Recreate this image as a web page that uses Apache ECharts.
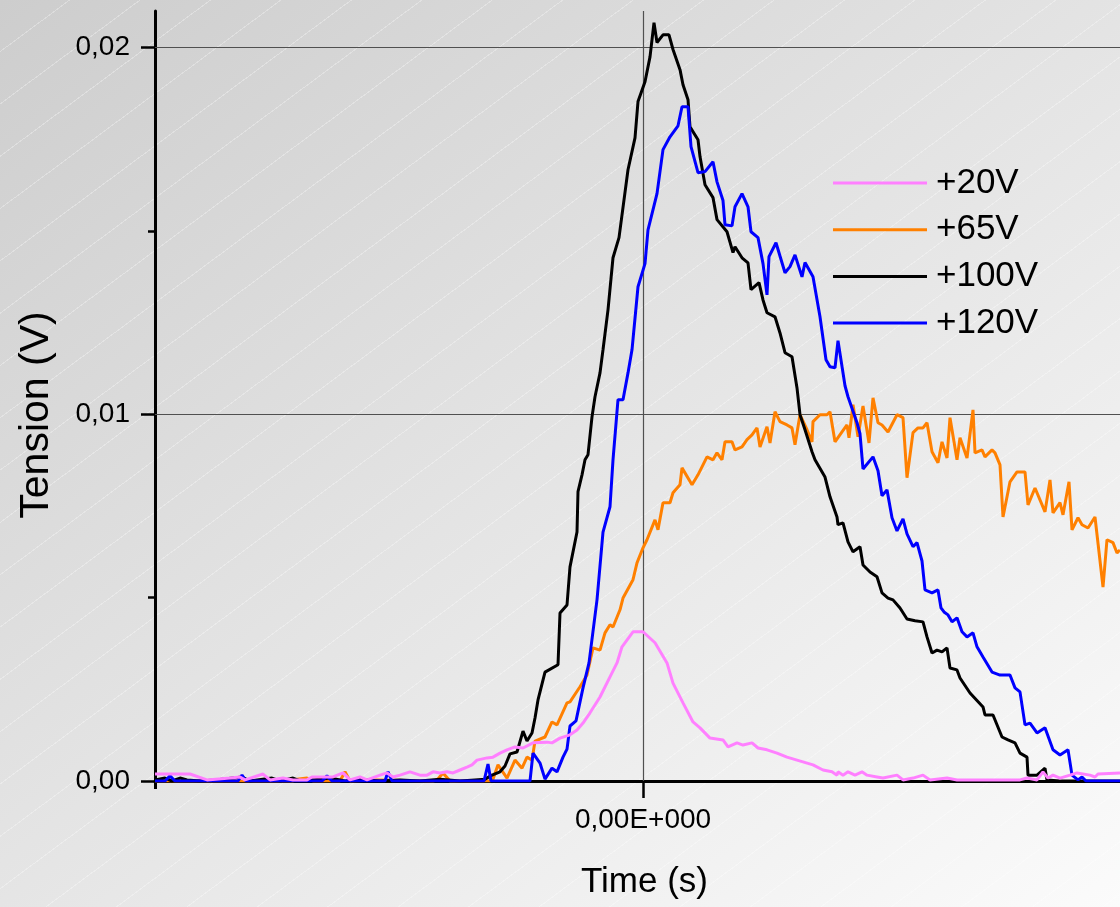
<!DOCTYPE html>
<html>
<head>
<meta charset="utf-8">
<script src="https://cdn.jsdelivr.net/npm/echarts@6/dist/echarts.min.js"></script>
<style>
  html, body { margin: 0; padding: 0; }
  #chart {
    width: 1120px; height: 907px;
    background:
      repeating-linear-gradient(143.4deg, rgba(255,255,255,0) 0px, rgba(255,255,255,0) 41px, rgba(255,255,255,0.3) 41px, rgba(255,255,255,0.3) 42px),
      linear-gradient(143deg, #cdcdcd 0%, #e2e2e2 45%, #fbfbfb 100%);
  }
</style>
</head>
<body>
<div id="chart"></div>
<script>
// Time in ns (relative to trigger), tension in mV
const seriesNames = ['+20V', '+65V', '+100V', '+120V'];
const yMajorTicks = [0, 0.01, 0.02];
const yMinorTicks = [0.005, 0.015];
const xTicks = [0];

const data20V = [
  [-488,0.19],[-453,0.19],[-436,0.03],[-413,0.08],[-403,0.11],[-398,0.03],[-380,0.19],[-373,0.03],[-360,0.08],
  [-350,0.03],[-336,0.03],[-331,0.11],[-310,0.11],[-300,0.22],[-293,0.03],[-283,0.11],[-276,0.03],[-263,0.16],
  [-256,0.22],[-250,0.11],[-243,0.16],[-233,0.25],[-223,0.16],[-216,0.16],[-210,0.25],[-203,0.22],[-196,0.25],
  [-190,0.22],[-183,0.30],[-176,0.38],[-171,0.44],[-166,0.57],[-156,0.63],[-150,0.65],[-143,0.76],[-136,0.85],
  [-128,0.93],[-120,0.90],[-110,1.04],[-96,1.06],[-91,1.04],[-83,1.17],[-73,1.26],[-66,1.39],[-60,1.58],
  [-53,1.86],[-43,2.29],[-33,2.84],[-26,3.22],[-21,3.66],[-10,4.07],[0,4.07],[2,4.07],[12,3.77],[24,3.22],
  [30,2.67],[40,2.13],[50,1.61],[57,1.45],[67,1.17],[80,1.12],[85,0.93],[94,1.04],[100,0.98],[109,1.04],
  [115,0.90],[124,0.85],[134,0.76],[144,0.65],[154,0.57],[170,0.44],[180,0.30],[189,0.25],[194,0.16],[195,0.25],
  [200,0.16],[205,0.25],[212,0.16],[219,0.25],[224,0.16],[234,0.11],[240,0.08],[254,0.16],[260,0.03],[270,0.08],
  [280,0.16],[287,0.03],[304,0.08],[314,0.03],[377,0.03],[384,0.08],[394,0.03],[400,0.25],[405,0.08],[410,0.16],
  [417,0.08],[427,0.16],[434,0.22],[447,0.16],[452,0.11],[455,0.19],[477,0.22]
];

const data65V = [
  [-488,0],[-350,0],[-346,0.05],[-336,0.08],[-330,0],[-303,0],[-298,0.25],[-293,0],[-266,0.03],[-210,0],
  [-206,0.03],[-200,0.22],[-193,0],[-153,0],[-150,0.05],[-145,0.44],[-136,0.08],[-128,0.57],[-121,0.35],
  [-116,0.65],[-111,0.57],[-108,1.09],[-98,1.20],[-91,1.61],[-86,1.53],[-76,2.13],[-73,2.16],[-63,2.57],
  [-56,2.89],[-50,3.63],[-43,3.57],[-38,4.04],[-33,4.26],[-30,4.20],[-23,4.67],[-20,4.99],[-10,5.49],[-6,5.95],
  [0,6.36],[4,6.58],[12,7.12],[15,6.85],[20,7.59],[27,7.59],[30,7.86],[37,8.08],[39,8.54],[49,8.08],[55,8.35],
  [64,8.84],[70,8.76],[74,8.95],[79,8.76],[82,9.25],[89,9.25],[92,9.03],[99,9.11],[104,9.31],[109,9.44],
  [114,9.63],[117,9.11],[124,9.66],[127,9.22],[132,10.07],[137,9.80],[144,9.71],[149,9.63],[152,9.17],
  [157,9.99],[164,9.58],[169,9.25],[170,9.80],[177,9.99],[184,9.99],[187,10.07],[192,9.25],[199,9.52],
  [204,9.71],[206,9.36],[210,10.26],[215,9.39],[220,10.23],[226,9.22],[230,10.45],[235,9.77],[239,9.71],
  [245,9.52],[254,9.99],[260,9.91],[264,8.27],[270,9.50],[275,9.63],[280,9.63],[284,9.77],[289,8.98],
  [295,8.68],[299,9.25],[304,8.81],[307,9.91],[314,8.76],[317,9.36],[324,8.81],[330,10.12],[332,8.95],
  [339,9.03],[342,8.84],[349,9.03],[352,8.95],[357,8.62],[360,7.20],[367,8.16],[374,8.43],[382,8.43],
  [385,7.53],[392,7.99],[402,7.34],[407,8.21],[410,7.31],[417,7.59],[420,7.26],[426,8.16],[429,6.85],
  [435,7.18],[439,6.99],[445,6.90],[452,7.20],[460,5.29],[464,6.58],[470,6.50],[474,6.22],[477,6.30]
];

const data100V = [
  [-488,0.03],[-478,0.08],[-471,0],[-463,0.08],[-456,0.03],[-443,0],[-428,0.03],[-401,0.11],[-393,0],
  [-371,0.08],[-363,0],[-350,0.08],[-343,0],[-323,0.05],[-313,0.08],[-298,0],[-283,0.05],[-263,0],
  [-243,0.03],[-223,0],[-203,0.05],[-183,0],[-168,0.03],[-158,0.05],[-151,0.16],[-143,0.25],[-138,0.41],
  [-133,0.74],[-126,0.79],[-120,1.36],[-116,1.09],[-111,1.31],[-108,1.72],[-105,2.21],[-98,2.97],[-85,3.17],
  [-83,4.58],[-76,4.80],[-73,5.84],[-66,6.79],[-65,7.89],[-61,8.35],[-58,8.76],[-55,8.90],[-51,9.93],
  [-48,10.48],[-43,11.13],[-40,11.76],[-35,12.85],[-30,14.27],[-24,14.82],[-15,16.67],[-8,17.54],[-5,18.53],
  [2,19.07],[7,19.75],[11,20.68],[14,20.14],[20,20.35],[26,20.35],[30,19.95],[37,19.40],[40,18.99],[45,18.58],
  [47,17.84],[55,17.49],[57,17.03],[62,16.26],[70,15.91],[74,15.31],[84,14.98],[90,14.41],[92,14.57],
  [99,14.27],[105,14.13],[108,13.40],[116,13.59],[120,13.12],[124,12.77],[132,12.66],[137,12.22],[142,11.68],
  [149,11.57],[154,10.72],[157,9.99],[162,9.58],[169,8.98],[172,8.76],[182,8.29],[187,7.75],[194,7.20],
  [195,6.99],[200,7.04],[205,6.52],[210,6.25],[217,6.39],[220,5.89],[227,5.70],[234,5.57],[239,5.13],
  [245,4.99],[250,4.94],[257,4.72],[264,4.42],[272,4.37],[280,4.34],[284,3.93],[289,3.49],[294,3.57],
  [299,3.52],[304,3.63],[307,3.08],[314,3.03],[317,2.81],[327,2.40],[340,2.02],[342,1.80],[350,1.80],
  [359,1.20],[365,1.12],[372,1.04],[377,0.76],[384,0.65],[385,0.16],[394,0.16],[402,0.35],[404,0.03],
  [417,0],[447,0],[477,0]
];

const data120V = [
  [-488,0],[-478,0],[-473,0.14],[-468,0],[-405,0],[-401,0.16],[-397,0],[-321,0],[-316,0.14],[-311,0],
  [-258,0],[-255,0.25],[-251,0],[-159,0],[-155,0.46],[-152,0],[-113,0],[-110,0.76],[-103,0.49],[-98,0.05],
  [-91,0.35],[-86,0.25],[-80,0.65],[-76,0.87],[-73,1.50],[-67,1.64],[-60,2.54],[-54,3.22],[-46,4.94],
  [-40,6.79],[-33,7.48],[-30,8.76],[-25,10.40],[-20,10.40],[-15,11.13],[-11,11.76],[-5,13.48],[2,14.11],
  [5,15.03],[14,16.02],[20,17.22],[27,17.57],[35,17.87],[39,18.39],[45,18.39],[48,17.30],[55,16.59],
  [62,16.62],[70,16.89],[74,16.34],[80,15.83],[82,15.17],[89,15.14],[92,15.66],[99,16.02],[105,15.66],
  [108,14.98],[115,14.82],[120,14.11],[124,13.26],[126,14.30],[133,14.68],[142,13.86],[147,14.03],
  [152,14.35],[159,13.75],[162,14.14],[170,13.75],[177,12.66],[183,11.49],[187,11.30],[192,11.27],
  [195,12.01],[202,10.78],[205,10.48],[214,9.77],[217,9.47],[220,8.51],[230,8.84],[235,8.46],[239,7.78],
  [244,7.94],[249,7.18],[254,6.82],[260,7.15],[264,6.74],[270,6.39],[274,6.50],[279,6.00],[282,5.21],
  [289,5.13],[295,5.21],[298,4.72],[301,4.61],[305,4.53],[309,4.34],[314,4.45],[319,4.07],[324,3.93],
  [330,4.04],[334,3.66],[340,3.38],[349,2.97],[357,2.89],[367,2.89],[372,2.54],[377,2.43],[382,1.53],
  [387,1.58],[394,1.31],[402,1.45],[410,0.85],[417,0.71],[425,0.85],[429,0.16],[435,0.03],[439,0.11],
  [443,0],[477,0]
];

const seriesData = [data20V, data65V, data100V, data120V];
const seriesColors = ['#ff80ff', '#ff8000', '#000000', '#0000ff'];
const seriesZ = [7, 4, 5, 6];

const FONT = 'Liberation Sans, Arial, Helvetica, sans-serif';
const toV = arr => arr.map(p => [p[0], p[1] / 1000]);

const chart = echarts.init(document.getElementById('chart'), null, { renderer: 'canvas' });

const series = seriesNames.map((name, i) => {
  const s = {
    name: name,
    type: 'line',
    data: toV(seriesData[i]),
    symbol: 'none',
    showSymbol: false,
    lineStyle: { color: seriesColors[i], width: 3 },
    itemStyle: { color: seriesColors[i] },
    clip: true,
    z: seriesZ[i]
  };
  if (i === 0) {
    s.markLine = {
      silent: true,
      symbol: ['none', 'none'],
      label: { show: false },
      lineStyle: { color: '#505050', width: 1.2, type: 'solid' },
      animation: false,
      z: 1,
      data: [{ yAxis: 0.01 }, { yAxis: 0.02 }, { xAxis: 0 }]
    };
  }
  return s;
});

const option = {
  backgroundColor: 'transparent',
  animation: false,
  grid: { left: 155, right: 0, top: 11, bottom: 126, containLabel: false },
  legend: {
    orient: 'vertical',
    left: 833,
    top: 163,
    padding: 0,
    icon: 'rect',
    itemWidth: 94,
    itemHeight: 3,
    itemGap: 6.7,
    data: seriesNames,
    textStyle: { fontSize: 35, color: '#000', fontFamily: FONT, lineHeight: 40, padding: [0, 0, 0, 4] }
  },
  xAxis: [
    {
      type: 'value', min: -488, max: 477, position: 'bottom',
      axisLine: { show: true, onZero: false, lineStyle: { color: '#000', width: 3 } },
      axisTick: { show: true, customValues: xTicks, length: 17, lineStyle: { color: '#000', width: 2.5 } },
      axisLabel: {
        show: true, customValues: xTicks, margin: 25,
        formatter: v => (v === 0 ? '0,00E+000' : ''),
        fontSize: 28, color: '#000', fontFamily: FONT
      },
      splitLine: { show: false },
      name: 'Time (s)', nameLocation: 'middle', nameGap: 84,
      nameTextStyle: { fontSize: 35, color: '#000', fontFamily: FONT, padding: [0, 0, 0, 14] }
    },
    {
      type: 'value', min: -488, max: 477, position: 'bottom',
      axisLine: { show: false, onZero: false },
      axisTick: { show: true, customValues: [-488], length: 8, lineStyle: { color: '#000', width: 3 } },
      axisLabel: { show: false },
      splitLine: { show: false }
    }
  ],
  yAxis: [
    {
      type: 'value', min: 0, max: 0.021, position: 'left',
      axisLine: { show: true, onZero: false, lineStyle: { color: '#000', width: 3 } },
      axisTick: { show: true, customValues: yMajorTicks, length: 14, lineStyle: { color: '#000', width: 2.5 } },
      axisLabel: {
        show: true, customValues: yMajorTicks, margin: 25,
        formatter: v => v.toFixed(2).replace('.', ','),
        fontSize: 28, color: '#000', fontFamily: FONT
      },
      splitLine: { show: false },
      name: 'Tension (V)', nameLocation: 'middle', nameGap: 98, nameRotate: 90,
      nameTextStyle: { fontSize: 41, color: '#000', fontFamily: FONT, padding: [0, 38, 0, 0] }
    },
    {
      type: 'value', min: 0, max: 0.021, position: 'left',
      axisLine: { show: false, onZero: false },
      axisTick: { show: true, customValues: yMinorTicks, length: 7, lineStyle: { color: '#000', width: 2.5 } },
      axisLabel: { show: false },
      splitLine: { show: false }
    }
  ],
  series: series
};

chart.setOption(option);
</script>
</body>
</html>
